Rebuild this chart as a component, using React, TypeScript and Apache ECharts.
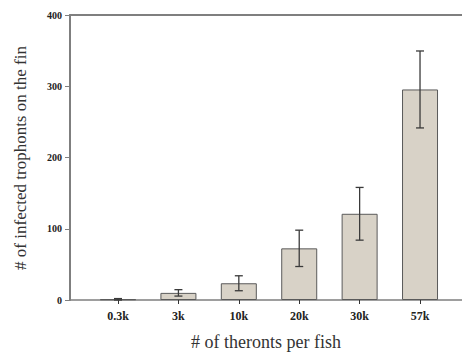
import React, { useEffect, useRef } from "react";
import * as echarts from "echarts";

const categories = ["0.3k", "3k", "10k", "20k", "30k", "57k"];
const means = [1, 10, 23.5, 72.5, 121, 295.5];
const errors = [1, 4.5, 10.5, 25.5, 37, 54];
const yTicks = [0, 100, 200, 300, 400];

const xTitle = "# of theronts per fish";
const yTitle = "# of infected trophonts on the fin";

export default function App() {
  const ref = useRef<HTMLDivElement>(null);
  useEffect(() => {
    if (!ref.current) return;
    const chart = echarts.init(ref.current, undefined, { renderer: "svg" });
    const idx = categories.map((_, i) => i);
    const serif = "'Liberation Serif', 'Times New Roman', serif";
    chart.setOption({
      animation: false,
      backgroundColor: "#ffffff",
      grid: { left: 70, right: 0, top: 15, bottom: 56 },
      xAxis: [
        {
          type: "value",
          min: -0.795,
          max: 5.695,
          splitLine: { show: false },
          axisLine: { show: true, onZero: false, lineStyle: { color: "#7f7f7f", width: 1.5 } },
          axisTick: {
            show: true,
            customValues: idx,
            length: 4,
            lineStyle: { color: "#333", width: 1 },
          },
          axisLabel: {
            show: true,
            customValues: idx,
            formatter: (v: number) => categories[Math.round(v)] ?? "",
            fontFamily: serif,
            fontWeight: "bold",
            fontSize: 12,
            color: "#222",
            margin: 10,
          },
          name: xTitle,
          nameLocation: "middle",
          nameGap: 33,
          nameTextStyle: { fontFamily: serif, fontSize: 18, color: "#333" },
        },
        {
          type: "value",
          position: "top",
          min: -0.795,
          max: 5.695,
          splitLine: { show: false },
          axisLine: { show: true, onZero: false, lineStyle: { color: "#7f7f7f", width: 2 } },
          axisTick: { show: false },
          axisLabel: { show: false },
        },
      ],
      yAxis: {
        type: "value",
        min: yTicks[0],
        max: yTicks[yTicks.length - 1],
        interval: 100,
        splitLine: { show: false },
        axisLine: { show: true, onZero: false, lineStyle: { color: "#7f7f7f", width: 2 } },
        axisTick: { show: true, length: 5, lineStyle: { color: "#7f7f7f", width: 1 } },
        axisLabel: {
          fontFamily: serif,
          fontWeight: "bold",
          fontSize: 10,
          color: "#222",
          margin: 8,
        },
      },
      graphic: [
        {
          type: "text",
          x: 20,
          y: 158,
          rotation: Math.PI / 2,
          style: {
            text: yTitle,
            fontFamily: serif,
            fontSize: 17,
            fill: "#333",
            textAlign: "center",
            textVerticalAlign: "middle",
          },
        },
      ],
      series: [
        {
          type: "bar",
          xAxisIndex: 0,
          barWidth: 36,
          data: means.map((m, i) => [i, m]),
          itemStyle: { color: "#d8d2c7", borderColor: "#5a5a5a", borderWidth: 1 },
        },
        {
          type: "custom",
          xAxisIndex: 0,
          data: means.map((m, i) => [i, m - errors[i], m + errors[i]]),
          renderItem: (params: any, api: any) => {
            const x = api.value(0);
            const lo = api.coord([x, api.value(1)]);
            const hi = api.coord([x, api.value(2)]);
            const cap = 4;
            const style = { stroke: "#3a3a3a", lineWidth: 1.3 };
            return {
              type: "group",
              children: [
                { type: "line", shape: { x1: lo[0], y1: lo[1], x2: hi[0], y2: hi[1] }, style },
                { type: "line", shape: { x1: hi[0] - cap, y1: hi[1], x2: hi[0] + cap, y2: hi[1] }, style },
                { type: "line", shape: { x1: lo[0] - cap, y1: lo[1], x2: lo[0] + cap, y2: lo[1] }, style },
              ],
            };
          },
          z: 5,
        },
      ],
    });
    return () => chart.dispose();
  }, []);
  return <div ref={ref} style={{ width: 462, height: 356, position: "absolute", left: 0, top: 0 }} />;
}
